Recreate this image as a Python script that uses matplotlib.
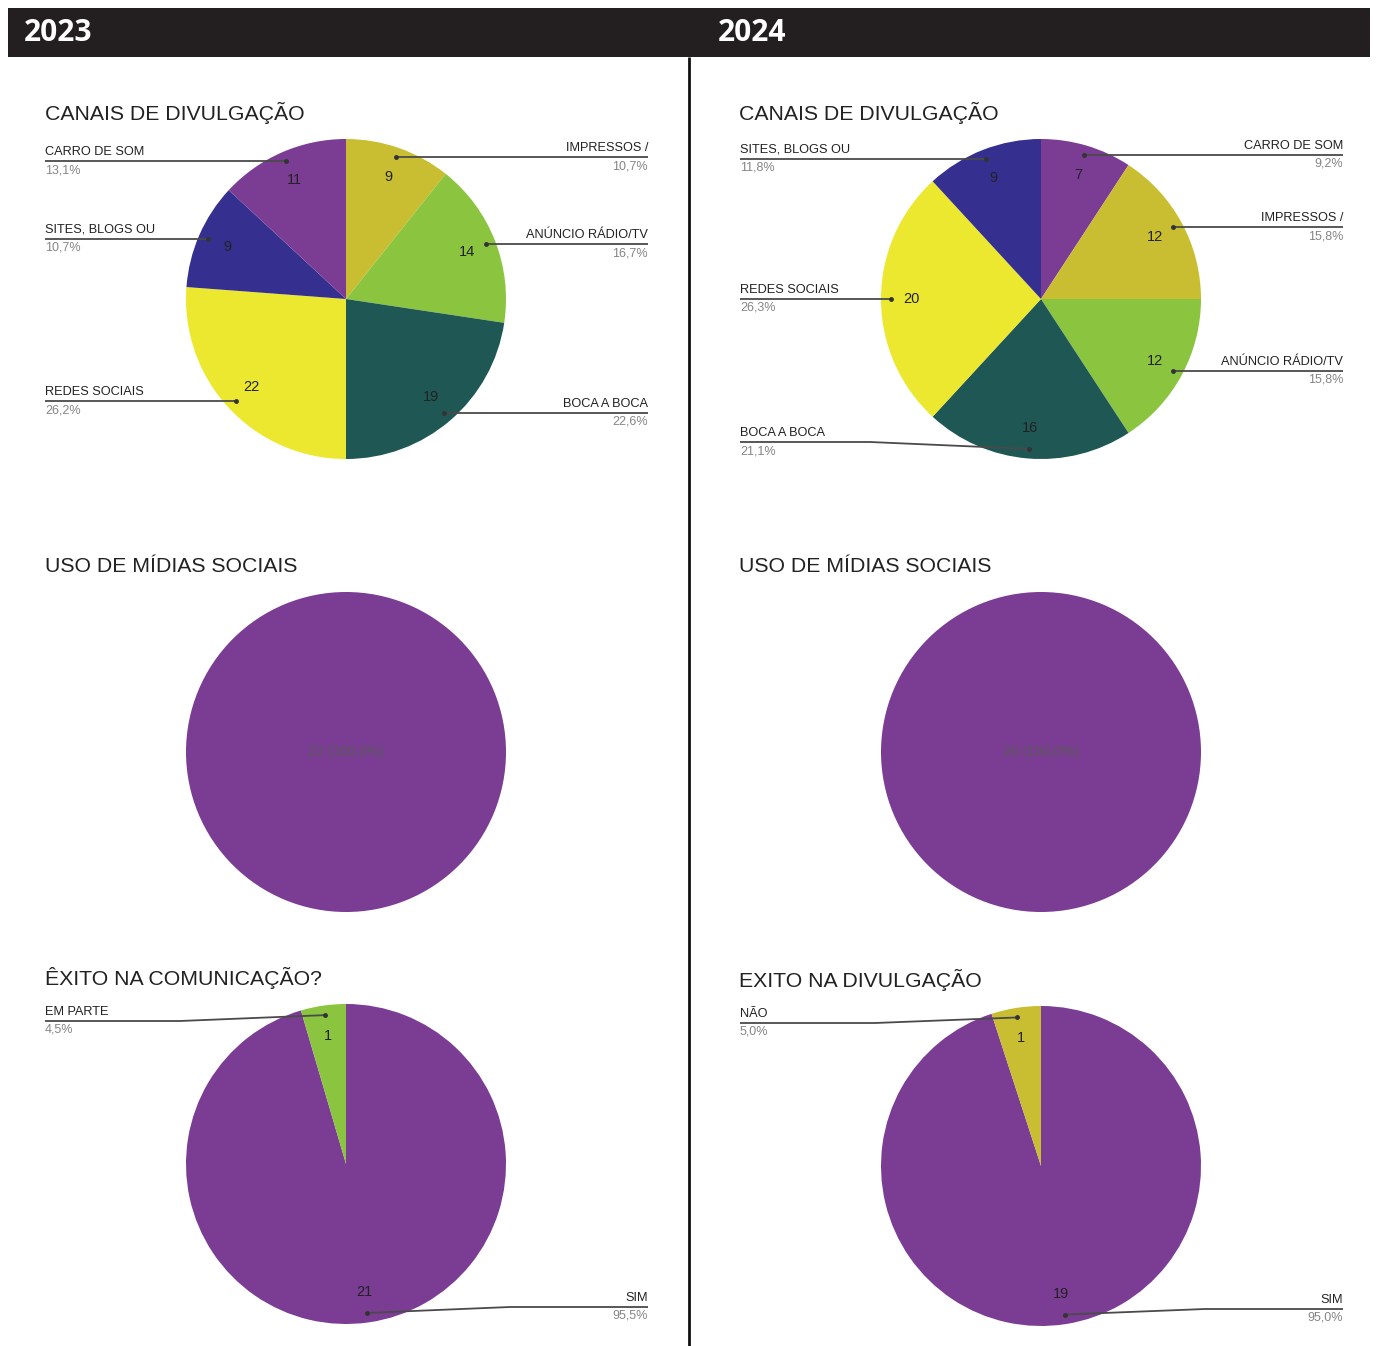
import matplotlib
matplotlib.use("Agg")
import numpy as np
import matplotlib.pyplot as plt

# Canvas
W, H = 1377, 1346
DPI = 100
PANEL_DX = 695        # horizontal shift of the 2024 column
RADIUS = 160          # pie radius in pixels

# Colours
PURPLE = '#7b3c94'
OLIVE = '#c9be31'
GREEN = '#8bc53f'
TEAL = '#1f5755'
YELLOW = '#ebe82f'
NAVY = '#352f8f'
HEADER = '#231f20'
LINE = '#4a4a4a'
TEXT = '#222222'
GREY = '#858585'

FONT = 'Liberation Sans'

# Data
years = ['2023', '2024']

canais_2023_labels = ['IMPRESSOS /', 'ANÚNCIO RÁDIO/TV', 'BOCA A BOCA',
                      'REDES SOCIAIS', 'SITES, BLOGS OU', 'CARRO DE SOM']
canais_2023_values = [9, 14, 19, 22, 9, 11]
canais_2023_colors = [OLIVE, GREEN, TEAL, YELLOW, NAVY, PURPLE]

canais_2024_labels = ['CARRO DE SOM', 'IMPRESSOS /', 'ANÚNCIO RÁDIO/TV',
                      'BOCA A BOCA', 'REDES SOCIAIS', 'SITES, BLOGS OU']
canais_2024_values = [7, 12, 12, 16, 20, 9]
canais_2024_colors = [PURPLE, OLIVE, GREEN, TEAL, YELLOW, NAVY]

midias_2023_values = [22]
midias_2024_values = [20]

exito_2023_labels = ['SIM', 'EM PARTE']
exito_2023_values = [21, 1]
exito_2023_colors = [PURPLE, GREEN]

exito_2024_labels = ['SIM', 'NÃO']
exito_2024_values = [19, 1]
exito_2024_colors = [PURPLE, OLIVE]

titles_2023 = ['CANAIS DE DIVULGAÇÃO', 'USO DE MÍDIAS SOCIAIS', 'ÊXITO NA COMUNICAÇÃO?']
titles_2024 = ['CANAIS DE DIVULGAÇÃO', 'USO DE MÍDIAS SOCIAIS', 'EXITO NA DIVULGAÇÃO']


fig = plt.figure(figsize=(W / DPI, H / DPI), dpi=DPI)
fig.patch.set_facecolor('white')


def pct_text(v, total):
    return '{:.1f}%'.format(v / total * 100).replace('.', ',')


def make_pie(cx, cy, values, colors, show_counts=True):
    ax = fig.add_axes([(cx - RADIUS) / W, (H - cy - RADIUS) / H,
                       2 * RADIUS / W, 2 * RADIUS / H])
    total = sum(values)
    if show_counts:
        autopct = lambda p: '{:d}'.format(int(round(p * total / 100)))
        dist = 0.81
    else:
        autopct = lambda p: '{:d} ({})'.format(int(round(p * total / 100)),
                                               '{:.1f}%'.format(p).replace('.', ','))
        dist = 0
    wedges, _, autotexts = ax.pie(values, colors=colors, startangle=90,
                                  counterclock=False, autopct=autopct,
                                  pctdistance=dist, radius=1,
                                  wedgeprops=dict(linewidth=0))
    for t in autotexts:
        t.set_fontfamily(FONT)
        if show_counts:
            t.set_fontsize(10.5)
            t.set_color(TEXT)
        else:
            t.set_fontsize(10)
            t.set_color('#5a5a5a')
    ax.set_xlim(-1, 1)
    ax.set_ylim(-1, 1)
    ax.axis('off')
    return ax, wedges


def dot_position(ax, wedge, r=0.94):
    mid = np.deg2rad((wedge.theta1 + wedge.theta2) / 2)
    x, y = ax.transData.transform((r * np.cos(mid), r * np.sin(mid)))
    return x, H - y


# Pies (centres in pixels, y measured from the top)
pies = []
ax, w = make_pie(346, 299, canais_2023_values, canais_2023_colors)
pies.append((ax, w, canais_2023_labels, canais_2023_values, 0,
             ['R', 'R', 'R', 'L', 'L', 'L'], {}))
ax, w = make_pie(346 + PANEL_DX, 299, canais_2024_values, canais_2024_colors)
pies.append((ax, w, canais_2024_labels, canais_2024_values, PANEL_DX,
             ['R', 'R', 'R', 'L', 'L', 'L'], {3: (442, 870)}))
make_pie(346, 752, midias_2023_values, [PURPLE], show_counts=False)
make_pie(346 + PANEL_DX, 752, midias_2024_values, [PURPLE], show_counts=False)
ax, w = make_pie(346, 1164, exito_2023_values, exito_2023_colors)
pies.append((ax, w, exito_2023_labels, exito_2023_values, 0,
             ['R', 'L'], {0: (1307, 510), 1: (1021, 180)}))
ax, w = make_pie(346 + PANEL_DX, 1166, exito_2024_values, exito_2024_colors)
pies.append((ax, w, exito_2024_labels, exito_2024_values, PANEL_DX,
             ['R', 'L'], {0: (1309, 1205), 1: (1023, 875)}))

# Overlay in pixel coordinates for header, titles and leader labels
ov = fig.add_axes([0, 0, 1, 1], zorder=5)
ov.set_xlim(0, W)
ov.set_ylim(H, 0)
ov.axis('off')
ov.patch.set_alpha(0)

ov.add_patch(plt.Rectangle((8, 8), 1362, 49, color=HEADER, lw=0))
ov.plot([689, 689], [57, H], color='#111111', lw=2, solid_capstyle='butt')
for i, yr in enumerate(years):
    ov.text(24 + i * 694, 33, yr, color='white', fontsize=21.5,
            fontweight='bold', family='Open Sans', va='center', ha='left')

title_rows = [113, 566, 978]
for i, titles in enumerate([titles_2023, titles_2024]):
    for j, t in enumerate(titles):
        ov.text(45 + i * 694, title_rows[j] + (2 if (i == 1 and j == 2) else 0),
                t, fontsize=15.3, family=FONT, color='#222222',
                va='center', ha='left')

for ax, wedges, labels, values, dx, sides, bends in pies:
    total = sum(values)
    for k, (wedge, lab, v, side) in enumerate(zip(wedges, labels, values, sides)):
        px, py = dot_position(ax, wedge)
        if k in bends:
            ly, ex = bends[k]
        else:
            ly, ex = py, px
        lx = 45 + dx if side == 'L' else 648 + dx
        ov.plot([lx, ex, px], [ly, ly, py], color=LINE, lw=1.3,
                solid_capstyle='butt')
        ov.plot(px, py, 'o', color='#333333', ms=2.5)
        ha = 'left' if side == 'L' else 'right'
        ov.text(lx, ly - 3, lab, fontsize=9.2, family=FONT, color=TEXT,
                ha=ha, va='bottom')
        ov.text(lx, ly + 3, pct_text(v, total), fontsize=9, family=FONT,
                color=GREY, ha=ha, va='top')

fig.savefig('out.png', dpi=DPI)
